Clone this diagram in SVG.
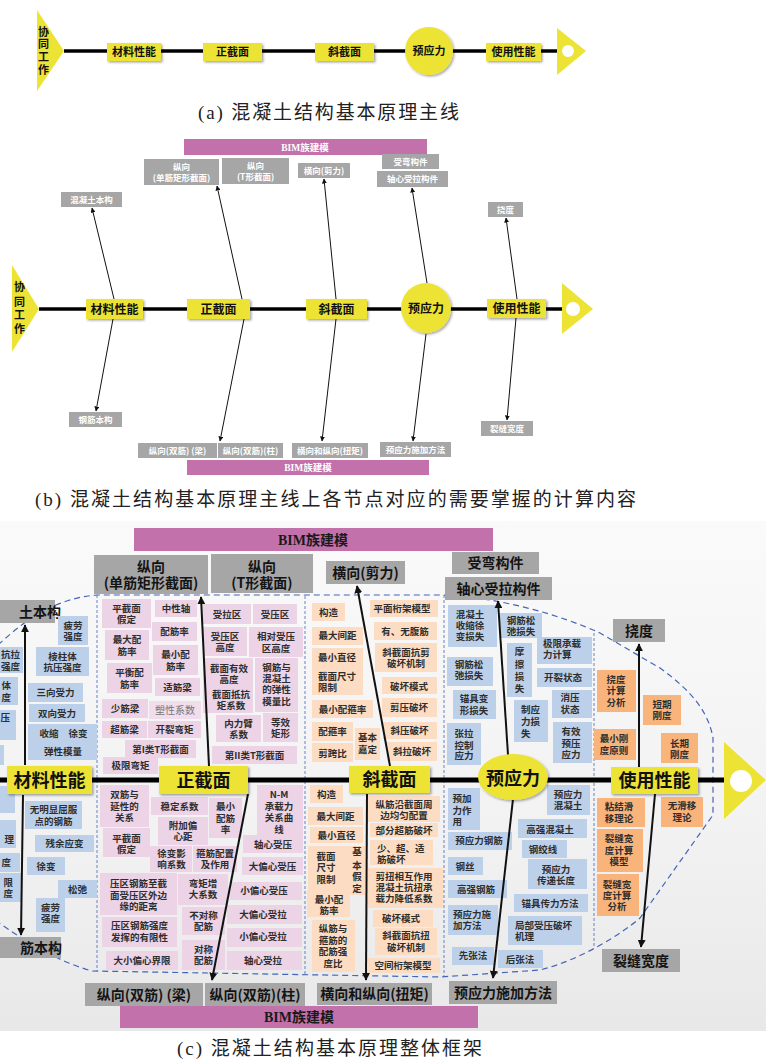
<svg xmlns="http://www.w3.org/2000/svg" width="766" height="1060" viewBox="0 0 766 1060">
<defs>
<style>
.t{font-family:"Noto Sans CJK SC","Noto Sans",sans-serif;font-size:9.5px;font-weight:700;fill:#2e2e2e;text-anchor:middle}
.s{text-anchor:start}
.e{text-anchor:end}
.B{fill:#BDD0E9}
.P{fill:#ECD3E5}
.E{fill:#FCDDC3}
.O{fill:#F8B47B}
.G{fill:#A6A6A6}
.Y{fill:#ECE335}
.M{fill:#C271AB}
.h{font-family:"Noto Sans CJK SC",sans-serif;font-size:14px;font-weight:700;fill:#141414;text-anchor:middle}
.n{font-family:"Noto Sans CJK SC",sans-serif;font-weight:700;fill:#111;text-anchor:middle}
.w{font-family:"Noto Sans CJK SC",sans-serif;font-size:8.5px;font-weight:700;fill:#fff;text-anchor:middle}
.bim{font-family:"Liberation Serif","Noto Sans CJK SC",serif;font-weight:700;text-anchor:middle}
.cap{font-family:"Liberation Serif","Noto Sans CJK SC",serif;font-size:19px;fill:#222}
.ar{stroke:#111;stroke-width:2;fill:none;marker-end:url(#ah)}
.ar2{stroke:#111;stroke-width:1;fill:none;marker-end:url(#ah2)}
.dash{fill:none;stroke:#4565B8;stroke-width:1.2;stroke-dasharray:6 4}
.dash2{fill:none;stroke:#4565B8;stroke-width:0.8;stroke-dasharray:3 2}
</style>
<marker id="ah" viewBox="0 0 10 10" refX="9" refY="5" markerWidth="4" markerHeight="4" orient="auto"><path d="M0,0 L10,5 L0,10 z" fill="#111"/></marker>
<marker id="ah2" viewBox="0 0 10 10" refX="9" refY="5" markerWidth="5" markerHeight="5" orient="auto"><path d="M0,0 L10,5 L0,10 z" fill="#111"/></marker>
<filter id="sh" x="-10%" y="-20%" width="130%" height="160%"><feDropShadow dx="1.5" dy="1.5" stdDeviation="1" flood-color="#000" flood-opacity="0.35"/></filter>
<linearGradient id="bg" x1="0" y1="0" x2="0" y2="1"><stop offset="0" stop-color="#FAFAFA"/><stop offset="0.6" stop-color="#F2F2F2"/><stop offset="1" stop-color="#E8E8E8"/></linearGradient>
</defs>
<rect width="766" height="1060" fill="#fff"/>

<!-- ================= (a) ================= -->
<g id="a-connectors">
<line x1="64" y1="51" x2="557" y2="51" stroke="#000" stroke-width="3.3"/>
</g>
<g id="a-start"><polygon class="Y" points="37,10 64,51 37,91"/><text class="n" font-size="11"><tspan x="43.5" y="36">协</tspan><tspan x="43.5" y="48">同</tspan><tspan x="43.5" y="61">工</tspan><tspan x="43.5" y="74">作</tspan></text></g>
<g id="a-material"><rect class="Y" x="107" y="43" width="54" height="18" filter="url(#sh)"/><text class="n" font-size="11" x="134" y="55.5">材料性能</text></g>
<g id="a-normal"><rect class="Y" x="203" y="43" width="59" height="18" filter="url(#sh)"/><text class="n" font-size="11" x="232.5" y="55.5">正截面</text></g>
<g id="a-oblique"><rect class="Y" x="315" y="43" width="59" height="18" filter="url(#sh)"/><text class="n" font-size="11" x="344.5" y="55.5">斜截面</text></g>
<g id="a-prestress"><circle class="Y" cx="429" cy="51" r="24" filter="url(#sh)"/><text class="n" font-size="11" x="429" y="55">预应力</text></g>
<g id="a-service"><rect class="Y" x="486" y="43" width="55" height="18" filter="url(#sh)"/><text class="n" font-size="11" x="513.5" y="55.5">使用性能</text></g>
<g id="a-end"><polygon class="Y" points="557,28 586,51 557,75"/><circle cx="568" cy="51" r="6" fill="#fff"/></g>
<text class="cap" x="198" y="119" textLength="261" lengthAdjust="spacing">(a) 混凝土结构基本原理主线</text>

<!-- ================= (b) ================= -->
<g id="b-connectors">
<line x1="39" y1="309" x2="562" y2="309" stroke="#000" stroke-width="3.5"/>
<line class="ar2" x1="114" y1="299" x2="92" y2="208"/>
<line class="ar2" x1="113" y1="319" x2="96" y2="411"/>
<line class="ar2" x1="242" y1="299" x2="217" y2="186"/>
<line class="ar2" x1="244" y1="319" x2="220" y2="441"/>
<line class="ar2" x1="336" y1="299" x2="324" y2="179"/>
<line class="ar2" x1="336" y1="319" x2="322" y2="441"/>
<line class="ar2" x1="427" y1="283" x2="412" y2="188"/>
<line class="ar2" x1="426" y1="334" x2="413" y2="441"/>
<line class="ar2" x1="517" y1="299" x2="506" y2="218"/>
<line class="ar2" x1="516" y1="318" x2="507" y2="420"/>
</g>
<g id="b-bim-top"><rect class="M" x="184" y="139" width="243" height="16"/><text class="bim" font-size="9.5" fill="#fff" x="305" y="150.5">BIM族建模</text></g>
<g id="b-h1"><rect class="G" x="144" y="159" width="75" height="26"/><text class="w"><tspan x="181.5" y="169.5">纵向</tspan><tspan x="181.5" y="180.5">(单筋矩形截面)</tspan></text></g>
<g id="b-h2"><rect class="G" x="222" y="158" width="67" height="26"/><text class="w"><tspan x="255.5" y="169">纵向</tspan><tspan x="255.5" y="180">(T形截面)</tspan></text></g>
<g id="b-h3"><rect class="G" x="298" y="163" width="52" height="15"/><text class="w" x="324" y="173.5">横向(剪力)</text></g>
<g id="b-h4"><rect class="G" x="382" y="154" width="57" height="15"/><text class="w" x="410.5" y="164.5">受弯构件</text></g>
<g id="b-h5"><rect class="G" x="377" y="171" width="71" height="16"/><text class="w" x="412.5" y="182">轴心受拉构件</text></g>
<g id="b-h6"><rect class="G" x="61" y="192" width="61" height="15"/><text class="w" x="91.5" y="202.5">混凝土本构</text></g>
<g id="b-h7"><rect class="G" x="69" y="412" width="53" height="15"/><text class="w" x="95.5" y="422.5">钢筋本构</text></g>
<g id="b-h8"><rect class="G" x="488" y="202" width="35" height="15"/><text class="w" x="505.5" y="212.5">挠度</text></g>
<g id="b-h9"><rect class="G" x="481" y="421" width="52" height="15"/><text class="w" x="507" y="431.5">裂缝宽度</text></g>
<g id="b-h10"><rect class="G" x="138" y="443" width="79" height="15"/><text class="w" x="177.5" y="453.5">纵向(双筋) (梁)</text></g>
<g id="b-h11"><rect class="G" x="218" y="443" width="65" height="15"/><text class="w" x="250.5" y="453.5">纵向(双筋)(柱)</text></g>
<g id="b-h12"><rect class="G" x="292" y="443" width="76" height="15"/><text class="w" x="330" y="453.5">横向和纵向(扭矩)</text></g>
<g id="b-h13"><rect class="G" x="380" y="442" width="71" height="15"/><text class="w" x="415.5" y="452.5">预应力施加方法</text></g>
<g id="b-bim-bottom"><rect class="M" x="187" y="460" width="242" height="15"/><text class="bim" font-size="9.5" fill="#fff" x="308" y="471">BIM族建模</text></g>
<g id="b-start"><polygon class="Y" points="12,265 39,309 12,352"/><text class="n" font-size="11"><tspan x="19.5" y="291">协</tspan><tspan x="19.5" y="305.5">同</tspan><tspan x="19.5" y="319">工</tspan><tspan x="19.5" y="333">作</tspan></text></g>
<g id="b-material"><rect class="Y" x="86" y="299" width="57" height="20" filter="url(#sh)"/><text class="n" font-size="12" x="114.5" y="313.5">材料性能</text></g>
<g id="b-normal"><rect class="Y" x="187" y="299" width="63" height="20" filter="url(#sh)"/><text class="n" font-size="12" x="218.5" y="313.5">正截面</text></g>
<g id="b-oblique"><rect class="Y" x="306" y="299" width="61" height="20" filter="url(#sh)"/><text class="n" font-size="12" x="336.5" y="313.5">斜截面</text></g>
<g id="b-prestress"><circle class="Y" cx="426" cy="308" r="25" filter="url(#sh)"/><text class="n" font-size="12" x="426" y="312.5">预应力</text></g>
<g id="b-service"><rect class="Y" x="487" y="299" width="59" height="19" filter="url(#sh)"/><text class="n" font-size="12" x="516.5" y="313">使用性能</text></g>
<g id="b-end"><polygon class="Y" points="562,283 593,309 562,334"/><circle cx="573" cy="309" r="7" fill="#fff"/></g>
<text class="cap" x="35" y="506" textLength="601" lengthAdjust="spacing">(b) 混凝土结构基本原理主线上各节点对应的需要掌握的计算内容</text>

<!-- ================= (c) ================= -->
<rect x="0" y="521" width="766" height="510" fill="url(#bg)"/>
<g id="c-outline">
<path class="dash" d="M -2,645 C 30,615 60,598 97,595 L 440,595 C 500,597 560,615 600,633 L 660,668 C 690,690 708,710 713,738 L 713,815 L 640,918 C 620,935 580,960 540,970 L 440,977 L 92,971 C 60,962 30,945 -2,922"/>
<line class="dash2" x1="97" y1="595" x2="97" y2="971"/>
<line class="dash2" x1="305" y1="596" x2="305" y2="975"/>
<line class="dash2" x1="444" y1="595" x2="444" y2="977"/>
<line class="dash2" x1="594" y1="633" x2="594" y2="948"/>
</g>

<g id="c-bim-top"><rect class="M" x="134" y="528" width="359" height="23"/><text class="bim" font-size="14" fill="#1a1a1a" x="313" y="544.5">BIM族建模</text></g>
<g id="c-bim-bottom"><rect class="M" x="120" y="1006" width="358" height="22"/><text class="bim" font-size="14" fill="#1a1a1a" x="299" y="1022">BIM族建模</text></g>

<g id="c-headers">
<g id="c-h1"><rect class="G" x="94" y="555" width="114" height="39"/><text class="h"><tspan x="151" y="572">纵向</tspan><tspan x="151" y="588">(单筋矩形截面)</tspan></text></g>
<g id="c-h2"><rect class="G" x="211" y="554" width="102" height="39"/><text class="h"><tspan x="262" y="571.5">纵向</tspan><tspan x="262" y="587.5">(T形截面)</tspan></text></g>
<g id="c-h3"><rect class="G" x="326" y="561" width="79" height="23"/><text class="h" x="365.5" y="577.5">横向(剪力)</text></g>
<g id="c-h4"><rect class="G" x="452" y="552" width="87" height="22"/><text class="h" x="495.5" y="568">受弯构件</text></g>
<g id="c-h5"><rect class="G" x="445" y="577" width="107" height="23"/><text class="h" x="498.5" y="593.5">轴心受拉构件</text></g>
<g id="c-h6"><rect class="G" x="-5" y="600" width="60" height="23"/><text class="h e" x="40" y="616.5">土本构</text></g>
<g id="c-h7"><rect class="G" x="613" y="619" width="52" height="23"/><text class="h" x="639" y="635.5">挠度</text></g>
<g id="c-h8"><rect class="G" x="602" y="949" width="78" height="23"/><text class="h" x="641" y="965.5">裂缝宽度</text></g>
<g id="c-h9"><rect class="G" x="-5" y="937" width="66" height="21"/><text class="h e" x="41" y="952.5">筋本构</text></g>
<g id="c-h10"><rect class="G" x="85" y="983" width="118" height="23"/><text class="h" x="144" y="999.5">纵向(双筋) (梁)</text></g>
<g id="c-h11"><rect class="G" x="205" y="983" width="100" height="23"/><text class="h" x="255" y="999.5">纵向(双筋)(柱)</text></g>
<g id="c-h12"><rect class="G" x="317" y="983" width="115" height="22"/><text class="h" x="374.5" y="999">横向和纵向(扭矩)</text></g>
<g id="c-h13"><rect class="G" x="449" y="981" width="108" height="23"/><text class="h" x="503" y="997.5">预应力施加方法</text></g>
</g>

<!-- material (blue) -->
<g id="c-material-items">
<g id="m1"><rect class="B" x="-5" y="647" width="28" height="26"/><text class="t s"><tspan x="1" y="658">抗拉</tspan><tspan x="1" y="669.5">强度</tspan></text></g>
<g id="m2"><rect class="B" x="-5" y="677" width="23" height="28"/><text class="t e"><tspan x="11" y="689">体</tspan><tspan x="11" y="700.5">度</tspan></text></g>
<g id="m3"><rect class="B" x="-5" y="710" width="21" height="30"/><text class="t e" x="10" y="721">压</text></g>
<g id="m4"><rect class="B" x="-5" y="745" width="9" height="20"/></g>
<g id="m5"><rect class="B" x="58" y="616" width="30" height="29"/><text class="t"><tspan x="73" y="628.5">疲劳</tspan><tspan x="73" y="640">强度</tspan></text></g>
<g id="m6"><rect class="B" x="36" y="647" width="53" height="29"/><text class="t"><tspan x="62.5" y="659.5">棱柱体</tspan><tspan x="62.5" y="671">抗压强度</tspan></text></g>
<g id="m7"><rect class="B" x="28" y="683" width="55" height="19"/><text class="t" x="55.5" y="696">三向受力</text></g>
<g id="m8"><rect class="B" x="29" y="704" width="56" height="18"/><text class="t" x="57" y="716.6">双向受力</text></g>
<g id="m9"><rect class="B" x="28" y="724" width="69" height="36"/><text class="t" x="49" y="737">收缩</text><text class="t" x="78" y="737">徐变</text><text class="t" x="63" y="755">弹性模量</text></g>
<g id="m10"><rect class="B" x="-5" y="786" width="20" height="27"/></g>
<g id="m11"><rect class="B" x="-5" y="820" width="21" height="28"/><text class="t e" x="14" y="843">理</text></g>
<g id="m12"><rect class="B" x="-5" y="853" width="25" height="19"/><text class="t e" x="11" y="866">度</text></g>
<g id="m13"><rect class="B" x="-5" y="873" width="26" height="29"/><text class="t e"><tspan x="13" y="885.5">限</tspan><tspan x="13" y="897">度</tspan></text></g>
<g id="m14"><rect class="B" x="25" y="801" width="57" height="28"/><text class="t"><tspan x="53.5" y="813">无明显屈服</tspan><tspan x="53.5" y="824.5">点的钢筋</tspan></text></g>
<g id="m15"><rect class="B" x="35" y="835" width="59" height="17"/><text class="t" x="64.5" y="847">残余应变</text></g>
<g id="m16"><rect class="B" x="27" y="857" width="38" height="18"/><text class="t" x="46" y="869.6">徐变</text></g>
<g id="m17"><rect class="B" x="58" y="880" width="39" height="18"/><text class="t" x="77.5" y="892.6">松弛</text></g>
<g id="m18"><rect class="B" x="36" y="898" width="29" height="34"/><text class="t"><tspan x="50.5" y="910.5">疲劳</tspan><tspan x="50.5" y="922">强度</tspan></text></g>
</g>

<!-- normal section (pink) -->
<g id="c-normal-items">
<g id="p1"><rect class="P" x="102" y="599" width="49" height="29"/><text class="t"><tspan x="126.5" y="611.5">平截面</tspan><tspan x="126.5" y="623">假定</tspan></text></g>
<g id="p2"><rect class="P" x="155" y="600" width="42" height="17"/><text class="t" x="176" y="612.1">中性轴</text></g>
<g id="p3"><rect class="P" x="105" y="630" width="44" height="30"/><text class="t"><tspan x="127" y="643">最大配</tspan><tspan x="127" y="654.5">筋率</tspan></text></g>
<g id="p4"><rect class="P" x="152" y="622" width="45" height="19"/><text class="t" x="174.5" y="635.1">配筋率</text></g>
<g id="p5"><rect class="P" x="153" y="645" width="45" height="30"/><text class="t"><tspan x="175.5" y="658">最小配</tspan><tspan x="175.5" y="669.5">筋率</tspan></text></g>
<g id="p6"><rect class="P" x="107" y="663" width="45" height="30"/><text class="t"><tspan x="129.5" y="676">平衡配</tspan><tspan x="129.5" y="687.5">筋率</tspan></text></g>
<g id="p7"><rect class="P" x="155" y="678" width="45" height="18"/><text class="t" x="177.5" y="690.6">适筋梁</text></g>
<g id="p8"><rect class="P" x="102" y="699" width="46" height="19"/><text class="t" x="125" y="712.1">少筋梁</text></g>
<g id="p9"><rect x="149" y="701" width="52" height="18" fill="#F1DDEB"/><text x="175" y="713.6" font-family="Liberation Serif,Noto Sans CJK SC,serif" font-size="10" fill="#777" text-anchor="middle">塑性系数</text></g>
<g id="p10"><rect class="P" x="102" y="721" width="45" height="17"/><text class="t" x="124.5" y="733.1">超筋梁</text></g>
<g id="p11"><rect class="P" x="148" y="721" width="53" height="17"/><text class="t" x="174.5" y="733.1">开裂弯矩</text></g>
<g id="p12"><rect class="P" x="125" y="740" width="71" height="18"/><text class="t" x="160.5" y="752.6">第I类T形截面</text></g>
<g id="p13"><rect class="P" x="103" y="757" width="55" height="17"/><text class="t" x="130.5" y="769.1">极限弯矩</text></g>
<g id="p14"><rect class="P" x="203" y="604" width="48" height="20"/><text class="t" x="227" y="617.6">受拉区</text></g>
<g id="p15"><rect class="P" x="253" y="604" width="44" height="20"/><text class="t" x="275" y="617.6">受压区</text></g>
<g id="p16"><rect class="P" x="203" y="627" width="44" height="29"/><text class="t"><tspan x="225" y="639.5">受压区</tspan><tspan x="225" y="651">高度</tspan></text></g>
<g id="p17"><rect class="P" x="249" y="627" width="54" height="30"/><text class="t"><tspan x="276" y="640">相对受压</tspan><tspan x="276" y="651.5">区高度</tspan></text></g>
<g id="p18"><rect class="P" x="203" y="658" width="50" height="55"/><text class="t"><tspan x="229" y="671.6">截面有效</tspan><tspan x="229" y="682.6">高度</tspan><tspan x="231" y="697.6">截面抵抗</tspan><tspan x="231" y="708.6">矩系数</tspan></text></g>
<g id="p19"><rect class="P" x="255" y="658" width="43" height="54"/><text class="t"><tspan x="276.5" y="670.6">钢筋与</tspan><tspan x="276.5" y="681.9">混凝土</tspan><tspan x="276.5" y="693.2">的弹性</tspan><tspan x="276.5" y="704.5">模量比</tspan></text></g>
<g id="p20"><rect class="P" x="216" y="715" width="45" height="27"/><text class="t"><tspan x="238.5" y="726.6">内力臂</tspan><tspan x="238.5" y="737.6">系数</tspan></text></g>
<g id="p21"><rect class="P" x="263" y="713" width="35" height="29"/><text class="t"><tspan x="280.5" y="725.6">等效</tspan><tspan x="280.5" y="736.6">矩形</tspan></text></g>
<g id="p22"><rect class="P" x="212" y="746" width="85" height="18"/><text class="t" x="254.5" y="758.6">第II类T形截面</text></g>
<g id="p23"><rect class="P" x="100" y="785" width="49" height="42"/><text class="t"><tspan x="124.5" y="798">双筋与</tspan><tspan x="124.5" y="809.5">延性的</tspan><tspan x="124.5" y="821">关系</tspan></text></g>
<g id="p24"><rect class="P" x="151" y="797" width="57" height="18"/><text class="t" x="179.5" y="809.6">稳定系数</text></g>
<g id="p25"><rect class="P" x="209" y="798" width="33" height="40"/><text class="t"><tspan x="225.5" y="810.3">最小</tspan><tspan x="225.5" y="822">配筋</tspan><tspan x="225.5" y="833">率</tspan></text></g>
<g id="p26"><rect class="P" x="158" y="817" width="50" height="28"/><text class="t"><tspan x="183" y="829.3">附加偏</tspan><tspan x="183" y="840.3">心距</tspan></text></g>
<g id="p27"><rect class="P" x="103" y="828" width="47" height="29"/><text class="t"><tspan x="126.5" y="842">平截面</tspan><tspan x="126.5" y="853">假定</tspan></text></g>
<g id="p28"><rect class="P" x="150" y="846" width="42" height="26"/><text class="t"><tspan x="171.5" y="857">徐变影</tspan><tspan x="171.5" y="868">响系数</tspan></text></g>
<g id="p29"><rect class="P" x="193" y="846" width="44" height="26"/><text class="t"><tspan x="215" y="857">箍筋配置</tspan><tspan x="215" y="868">及作用</tspan></text></g>
<g id="p30"><rect class="P" x="100" y="873" width="77" height="42"/><text class="t"><tspan x="138.5" y="887">压区钢筋至截</tspan><tspan x="138.5" y="898.5">面受压区外边</tspan><tspan x="138.5" y="910">缘的距离</tspan></text></g>
<g id="p31"><rect class="P" x="178" y="874" width="50" height="31"/><text class="t"><tspan x="203" y="887">弯矩增</tspan><tspan x="203" y="898">大系数</tspan></text></g>
<g id="p32"><rect class="P" x="102" y="917" width="75" height="30"/><text class="t"><tspan x="139.5" y="929.3">压区钢筋强度</tspan><tspan x="139.5" y="941">发挥的有限性</tspan></text></g>
<g id="p33"><rect class="P" x="182" y="907" width="43" height="28"/><text class="t"><tspan x="203.5" y="919.3">不对称</tspan><tspan x="203.5" y="930.3">配筋</tspan></text></g>
<g id="p34"><rect class="P" x="106" y="951" width="72" height="19"/><text class="t" x="142" y="964">大小偏心界限</text></g>
<g id="p35"><rect class="P" x="182" y="940" width="43" height="30"/><text class="t"><tspan x="203.5" y="953">对称</tspan><tspan x="203.5" y="964.3">配筋</tspan></text></g>
<g id="p36"><rect class="P" x="257" y="785" width="46" height="52"/><text class="t"><tspan x="279" y="797.6">N-M</tspan><tspan x="279" y="809.6">承载力</tspan><tspan x="279" y="821.3">关系曲</tspan><tspan x="279" y="832.6">线</tspan></text></g>
<g id="p37"><rect class="P" x="243" y="835" width="60" height="18"/><text class="t" x="273" y="847.6">轴心受压</text></g>
<g id="p38"><rect class="P" x="242" y="857" width="61" height="18"/><text class="t" x="272.5" y="869.6">大偏心受压</text></g>
<g id="p39"><rect class="P" x="230" y="882" width="72" height="18"/><text class="t" x="264" y="894.3">小偏心受压</text></g>
<g id="p40"><rect class="P" x="227" y="905" width="75" height="19"/><text class="t" x="263" y="918">大偏心受拉</text></g>
<g id="p41"><rect class="P" x="227" y="928" width="75" height="19"/><text class="t" x="263" y="940.3">小偏心受拉</text></g>
<g id="p42"><rect class="P" x="227" y="951" width="75" height="19"/><text class="t" x="263" y="964.3">轴心受拉</text></g>
</g>

<!-- oblique section (peach) -->
<g id="c-oblique-items">
<g id="e1"><rect class="E" x="312" y="603" width="33" height="18"/><text class="t" x="328.5" y="615.6">构造</text></g>
<g id="e2"><rect class="E" x="370" y="600" width="68" height="17"/><text class="t" x="402" y="612">平面桁架模型</text></g>
<g id="e3"><rect class="E" x="312" y="627" width="51" height="18"/><text class="t" x="337.5" y="639.3">最大间距</text></g>
<g id="e4"><rect class="E" x="374" y="622" width="63" height="18"/><text class="t" x="405" y="634.6">有、无腹筋</text></g>
<g id="e5"><rect class="E" x="312" y="648" width="51" height="47"/><text class="t" x="337" y="661.3">最小直径</text><text class="t s"><tspan x="318" y="680.3">截面尺寸</tspan><tspan x="318" y="691.3">限制</tspan></text></g>
<g id="e6"><rect class="E" x="375" y="643" width="62" height="29"/><text class="t"><tspan x="406" y="656">斜截面抗剪</tspan><tspan x="406" y="667.3">破坏机制</tspan></text></g>
<g id="e7"><rect class="E" x="382" y="677" width="55" height="17"/><text class="t" x="409" y="689.6">破坏模式</text></g>
<g id="e8"><rect class="E" x="312" y="700" width="61" height="18"/><text class="t" x="342.5" y="712.6">最小配箍率</text></g>
<g id="e9"><rect class="E" x="382" y="698" width="55" height="19"/><text class="t" x="409" y="711.3">剪压破坏</text></g>
<g id="e10"><rect class="E" x="312" y="722" width="41" height="19"/><text class="t" x="332.5" y="735.3">配箍率</text></g>
<g id="e11"><rect class="E" x="355" y="728" width="25" height="32"/><text class="t"><tspan x="367.5" y="741">基本</tspan><tspan x="367.5" y="753">嘉定</tspan></text></g>
<g id="e12"><rect class="E" x="383" y="722" width="54" height="17"/><text class="t" x="409.5" y="733.6">斜压破坏</text></g>
<g id="e13"><rect class="E" x="312" y="743" width="41" height="19"/><text class="t" x="332.5" y="757">剪跨比</text></g>
<g id="e14"><rect class="E" x="387" y="742" width="50" height="19"/><text class="t" x="412" y="755">斜拉破坏</text></g>
<g id="e15"><rect class="E" x="310" y="785" width="33" height="18"/><text class="t" x="326.5" y="798">构造</text></g>
<g id="e16"><rect class="E" x="308" y="807" width="55" height="18"/><text class="t" x="335.5" y="819.6">最大间距</text></g>
<g id="e17"><rect class="E" x="310" y="827" width="53" height="16"/><text class="t" x="336.5" y="838.5">最小直径</text></g>
<g id="e18"><rect class="E" x="308" y="846" width="57" height="49"/><text class="t"><tspan x="326" y="859.6">截面</tspan><tspan x="326" y="871.3">尺寸</tspan><tspan x="326" y="883">限制</tspan></text><text class="t"><tspan x="357" y="855.3">基</tspan><tspan x="357" y="868.6">本</tspan><tspan x="357" y="880.3">假</tspan><tspan x="357" y="892">定</tspan></text></g>
<g id="e19"><rect class="E" x="307" y="891" width="43" height="26"/><text class="t"><tspan x="329" y="902.5">最小配</tspan><tspan x="329" y="913.5">筋率</tspan></text></g>
<g id="e20"><rect class="E" x="312" y="920" width="43" height="52"/><text class="t"><tspan x="333" y="932">纵筋与</tspan><tspan x="333" y="943.6">箍筋的</tspan><tspan x="333" y="955.3">配筋强</tspan><tspan x="333" y="967">度比</tspan></text></g>
<g id="e21"><rect class="E" x="368" y="796" width="72" height="26"/><text class="t"><tspan x="404" y="808">纵筋沿截面周</tspan><tspan x="404" y="819.3">边均匀配置</tspan></text></g>
<g id="e22"><rect class="E" x="370" y="823" width="68" height="14"/><text class="t" x="404" y="833.6">部分超筋破坏</text></g>
<g id="e23"><rect class="E" x="370" y="840" width="63" height="25"/><text class="t s"><tspan x="377" y="852">少、超、适</tspan><tspan x="377" y="863">筋破坏</tspan></text></g>
<g id="e24"><rect class="E" x="368" y="868" width="75" height="40"/><text class="t"><tspan x="404" y="879.6">剪扭相互作用</tspan><tspan x="404" y="891">混凝土抗扭承</tspan><tspan x="404" y="902.3">载力降低系数</tspan></text></g>
<g id="e25"><rect class="E" x="373" y="910" width="60" height="17"/><text class="t" x="401" y="922">破坏模式</text></g>
<g id="e26"><rect class="E" x="375" y="928" width="62" height="27"/><text class="t"><tspan x="406" y="939.3">斜截面抗扭</tspan><tspan x="406" y="951">破坏机制</tspan></text></g>
<g id="e27"><rect class="E" x="368" y="958" width="72" height="15"/><text class="t" x="403" y="969.3">空间桁架模型</text></g>
</g>

<!-- prestress (blue) -->
<g id="c-prestress-items">
<g id="q1"><rect class="B" x="448" y="605" width="49" height="42"/><text class="t"><tspan x="470" y="618">混凝土</tspan><tspan x="470" y="629.3">收缩徐</tspan><tspan x="470" y="640.3">变损失</tspan></text></g>
<g id="q2"><rect class="B" x="500" y="613" width="42" height="25"/><text class="t"><tspan x="521" y="623.6">钢筋松</tspan><tspan x="521" y="634.6">弛损失</tspan></text></g>
<g id="q3"><rect class="B" x="537" y="637" width="55" height="27"/><text class="t s"><tspan x="543" y="647">极限承载</tspan><tspan x="543" y="658">力计算</tspan></text></g>
<g id="q4"><rect class="B" x="447" y="657" width="46" height="29"/><text class="t"><tspan x="469" y="668">钢筋松</tspan><tspan x="469" y="679.3">弛损失</tspan></text></g>
<g id="q5"><rect class="B" x="507" y="643" width="25" height="54"/><text class="t"><tspan x="519.5" y="654.6">摩</tspan><tspan x="519.5" y="668">擦</tspan><tspan x="519.5" y="680.3">损</tspan><tspan x="519.5" y="692">失</tspan></text></g>
<g id="q6"><rect class="B" x="537" y="668" width="55" height="19"/><text class="t" x="563" y="681">开裂状态</text></g>
<g id="q7"><rect class="B" x="453" y="690" width="43" height="29"/><text class="t"><tspan x="474" y="702">锚具变</tspan><tspan x="474" y="713.6">形损失</tspan></text></g>
<g id="q8"><rect class="B" x="552" y="690" width="40" height="28"/><text class="t"><tspan x="570" y="701.3">消压</tspan><tspan x="570" y="712.6">状态</tspan></text></g>
<g id="q9"><rect class="B" x="514" y="700" width="34" height="42"/><text class="t s"><tspan x="521" y="713">制应</tspan><tspan x="521" y="725.3">力损</tspan><tspan x="521" y="737">失</tspan></text></g>
<g id="q10"><rect class="B" x="447" y="723" width="34" height="42"/><text class="t"><tspan x="464" y="737">张拉</tspan><tspan x="464" y="748.6">控制</tspan><tspan x="464" y="759.3">应力</tspan></text></g>
<g id="q11"><rect class="B" x="553" y="722" width="39" height="41"/><text class="t"><tspan x="571" y="735.3">有效</tspan><tspan x="571" y="747">预压</tspan><tspan x="571" y="758">应力</tspan></text></g>
<g id="q12"><rect class="B" x="448" y="788" width="32" height="42"/><text class="t s"><tspan x="452.5" y="802">预加</tspan><tspan x="452.5" y="813.6">力作</tspan><tspan x="452.5" y="825.3">用</tspan></text></g>
<g id="q13"><rect class="B" x="547" y="785" width="43" height="30"/><text class="t"><tspan x="568" y="797.6">预应力</tspan><tspan x="568" y="808.6">混凝土</tspan></text></g>
<g id="q14"><rect class="B" x="448" y="832" width="64" height="18"/><text class="t" x="479" y="844.3">预应力钢筋</text></g>
<g id="q15"><rect class="B" x="518" y="819" width="69" height="19"/><text class="t" x="550" y="832.6">高强混凝土</text></g>
<g id="q16"><rect class="B" x="522" y="840" width="45" height="18"/><text class="t" x="543" y="853">钢绞线</text></g>
<g id="q17"><rect class="B" x="448" y="857" width="35" height="18"/><text class="t" x="465" y="869.6">钢丝</text></g>
<g id="q18"><rect class="B" x="528" y="859" width="59" height="30"/><text class="t"><tspan x="556" y="872.6">预应力</tspan><tspan x="556" y="883.6">传递长度</tspan></text></g>
<g id="q19"><rect class="B" x="448" y="880" width="59" height="18"/><text class="t" x="476" y="892.6">高强钢筋</text></g>
<g id="q20"><rect class="B" x="514" y="894" width="74" height="18"/><text class="t" x="550" y="907">锚具传力方法</text></g>
<g id="q21"><rect class="B" x="448" y="905" width="50" height="30"/><text class="t s"><tspan x="453" y="917.6">预应力施</tspan><tspan x="453" y="928.6">加方法</tspan></text></g>
<g id="q22"><rect class="B" x="508" y="916" width="74" height="29"/><text class="t s"><tspan x="515" y="928.6">局部受压破坏</tspan><tspan x="515" y="939.6">机理</tspan></text></g>
<g id="q23"><rect class="B" x="452" y="947" width="42" height="18"/><text class="t" x="473" y="958.6">先张法</text></g>
<g id="q24"><rect class="B" x="498" y="950" width="45" height="18"/><text class="t" x="520" y="963">后张法</text></g>
</g>

<!-- service (orange) -->
<g id="c-service-items">
<g id="o1"><rect class="O" x="597" y="670" width="39" height="42"/><text class="t"><tspan x="616" y="682.6">挠度</tspan><tspan x="616" y="694.3">计算</tspan><tspan x="616" y="706">分析</tspan></text></g>
<g id="o2"><rect class="O" x="643" y="695" width="38" height="30"/><text class="t"><tspan x="662" y="707.6">短期</tspan><tspan x="662" y="718.6">刚度</tspan></text></g>
<g id="o3"><rect class="O" x="594" y="729" width="42" height="31"/><text class="t"><tspan x="614" y="742">最小刚</tspan><tspan x="614" y="753.6">度原则</tspan></text></g>
<g id="o4"><rect class="O" x="661" y="733" width="37" height="30"/><text class="t"><tspan x="679.5" y="747">长期</tspan><tspan x="679.5" y="758">刚度</tspan></text></g>
<g id="o5"><rect class="O" x="597" y="798" width="48" height="29"/><text class="t"><tspan x="619" y="810.3">粘结滑</tspan><tspan x="619" y="822">移理论</tspan></text></g>
<g id="o6"><rect class="O" x="661" y="797" width="42" height="30"/><text class="t"><tspan x="682" y="809.3">无滑移</tspan><tspan x="682" y="821">理论</tspan></text></g>
<g id="o7"><rect class="O" x="597" y="829" width="46" height="43"/><text class="t"><tspan x="619" y="842">裂缝宽</tspan><tspan x="619" y="853.6">度计算</tspan><tspan x="619" y="865.3">模型</tspan></text></g>
<g id="o8"><rect class="O" x="597" y="874" width="42" height="42"/><text class="t"><tspan x="617" y="887.6">裂缝宽</tspan><tspan x="617" y="898.6">度计算</tspan><tspan x="617" y="909.6">分析</tspan></text></g>
</g>

<g id="c-connectors">
<line x1="0" y1="780" x2="725" y2="780" stroke="#000" stroke-width="5"/>
<line class="ar" x1="25" y1="765" x2="25" y2="625"/>
<line class="ar" x1="23" y1="795" x2="21" y2="935"/>
<line class="ar" x1="209" y1="766" x2="201" y2="597"/>
<line class="ar" x1="248" y1="794" x2="212" y2="980"/>
<line class="ar" x1="390" y1="766" x2="357" y2="586"/>
<line class="ar" x1="367" y1="794" x2="366" y2="980"/>
<line class="ar" x1="508" y1="755" x2="498" y2="601"/>
<line class="ar" x1="513" y1="799" x2="493" y2="978"/>
<line class="ar" x1="639" y1="767" x2="639" y2="644"/>
<line class="ar" x1="655" y1="794" x2="641" y2="947"/>
</g>

<g id="c-material"><rect class="Y" x="7" y="766" width="85" height="28" filter="url(#sh)"/><text class="n" font-size="18" x="49.5" y="786.5">材料性能</text></g>
<g id="c-normal"><rect class="Y" x="159" y="766" width="89" height="28" filter="url(#sh)"/><text class="n" font-size="18" x="203.5" y="786.5">正截面</text></g>
<g id="c-oblique"><rect class="Y" x="349" y="766" width="81" height="27" filter="url(#sh)"/><text class="n" font-size="18" x="389.5" y="786">斜截面</text></g>
<g id="c-prestress"><ellipse class="Y" cx="513" cy="777" rx="35" ry="23" filter="url(#sh)"/><text class="n" font-size="18" x="513" y="785">预应力</text></g>
<g id="c-service"><rect class="Y" x="611" y="767" width="87" height="27" filter="url(#sh)"/><text class="n" font-size="18" x="654.5" y="787">使用性能</text></g>
<g id="c-end"><polygon class="Y" points="724,742 766,780 724,819"/><circle cx="741" cy="781" r="11" fill="#fff"/></g>

<text class="cap" x="177" y="1055" textLength="305" lengthAdjust="spacing">(c) 混凝土结构基本原理整体框架</text>
</svg>
